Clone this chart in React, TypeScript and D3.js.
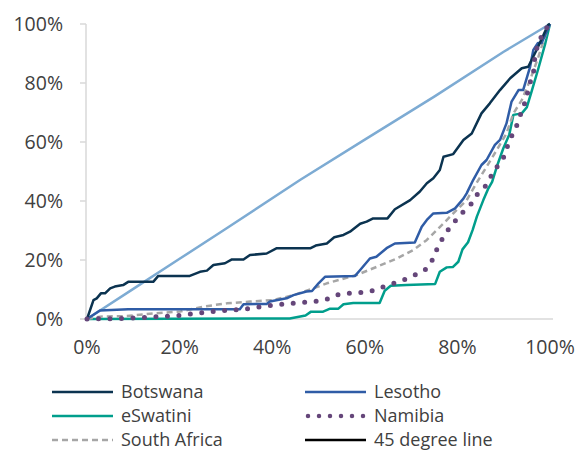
import * as d3 from "d3";

// cumulative share of population (x) vs cumulative share of income (y), in %
const botswana: [number, number][] = [
  [0, 0], [1.4, 6.4], [2.1, 7], [3, 8.7], [3.9, 8.7], [5, 10.4], [6, 11], [7.8, 11.5],
  [8.9, 12.6], [14.3, 12.6], [15.4, 14.6], [22.2, 14.6], [24.4, 16], [25.9, 16.4],
  [27.3, 18.3], [29.8, 18.9], [31.3, 20.2], [33.8, 20.2], [35.2, 21.7], [38.8, 22.2],
  [41, 24], [48.3, 24], [49.4, 24.9], [51.8, 25.6], [53.4, 27.7], [55.4, 28.5],
  [56.8, 29.6], [59, 32.3], [60.4, 33], [61.8, 34.1], [64.9, 34.1], [66.5, 37.2],
  [69.8, 40.3], [71.9, 43.2], [73.4, 46], [74.8, 47.7], [76.2, 50.5], [77, 55],
  [79.1, 55.9], [81.3, 60.7], [83.1, 62.9], [85.2, 69.7], [87, 73.1], [89.2, 77.6],
  [91.4, 81.6], [93.9, 85], [95.3, 85.5], [97.1, 91.2], [99.6, 99.7], [100, 100],
];
const lesotho: [number, number][] = [
  [0, 0], [2.8, 2.9], [8.9, 3.3], [33, 3.3], [33.8, 5], [38.8, 5.1], [39.5, 5.9],
  [43.1, 7], [44.6, 8.1], [47.4, 9.3], [48.6, 9.5], [50, 12.1], [51.4, 14.3],
  [57.9, 14.6], [59, 16.6], [61.1, 20.5], [62.5, 21.1], [64.7, 24], [66.5, 25.6],
  [70.8, 25.9], [72.3, 31.3], [73.4, 33.6], [74.8, 35.8], [77.7, 36], [79.5, 37.5],
  [81.3, 40.8], [82, 42.6], [83.4, 47.1], [85.2, 52.2], [86.3, 53.9], [88.1, 59],
  [89.2, 60.7], [90.6, 66.3], [91.7, 73.7], [93.2, 77.6], [94.2, 77.6], [95.7, 85.5],
  [96.4, 91.2], [97.4, 93.6], [98.2, 93.6], [100, 100],
];
const eswatini: [number, number][] = [
  [0, 0], [43.8, 0.2], [47.2, 1.2], [48.4, 2.5], [51, 2.5], [52.5, 3.5], [54.3, 3.5],
  [55.4, 5], [57.5, 5.4], [63.2, 5.4], [64.3, 9.6], [65.6, 11.3], [69, 11.5],
  [75.2, 11.9], [76.2, 16], [77.7, 17.5], [79, 17.6], [80.2, 19.4], [81.1, 23.6],
  [82.3, 26], [83.3, 30.2], [84.2, 34.7], [85.6, 40.3], [86.7, 44.3], [87.5, 46.5],
  [88.5, 51.6], [89.9, 57.8], [91.2, 62.5], [92.1, 69.2], [93.9, 69.7], [95, 71.8],
  [96, 77], [97.5, 85], [98.9, 92.9], [100, 100],
];
const namibia: [number, number][] = [
  [0, 0], [8.6, 0.2], [13.2, 0.6], [18.6, 1], [23.7, 1.9], [28.7, 2.8], [33.8, 3.3],
  [38.8, 4.4], [43.9, 5.3], [48.9, 5.9], [51.4, 6.4], [53.9, 8.1], [56.1, 8.7],
  [58.6, 8.9], [61.1, 9.3], [63.6, 10.7], [65.8, 11.9], [68.3, 13.2], [70.8, 14.9],
  [73, 16.6], [74.4, 19.4], [75.5, 23.4], [76.6, 26.8], [78, 30.2], [80.6, 35.3],
  [83.1, 39.2], [84.5, 42.8], [86.3, 45.4], [87.4, 48.8], [88.8, 52.2], [90.3, 55.6],
  [91, 59.6], [93.2, 66.9], [93.9, 70.8], [95, 74.8], [95.3, 78.7], [96.4, 82.7],
  [96.8, 90.1], [97.8, 94.6], [98.9, 98], [100, 100],
];
const southAfrica: [number, number][] = [
  [0, 0], [2.8, 0.8], [8.6, 1], [14.3, 1.9], [20.1, 2.5], [25.1, 4.2], [30.2, 5.3],
  [35.2, 5.9], [40.2, 6.4], [44.6, 8.1], [48.9, 10.4], [51.8, 12.1], [58.2, 14.9],
  [62.6, 17.7], [66.9, 20.5], [70.5, 23.4], [73.4, 26.8], [77, 32.4], [79.8, 36.9],
  [82, 40.3], [84.1, 46], [86.3, 51.6], [88.5, 57.3], [90.6, 62.9], [92.1, 69.7],
  [93.9, 74.2], [95.7, 81], [97.5, 88.9], [98.9, 95.7], [100, 100],
];
const equality: [number, number][] = [
  [0, 0], [10, 10.2], [20, 20.4], [30, 30.6], [46, 47.1], [60, 60.8], [75, 75.4],
  [90, 90.6], [100, 100],
];

const ticks = [0, 20, 40, 60, 80, 100];

const series = [
  { name: "45 degree line", data: equality, color: "#7dabd3", legend: "#000000", dash: "", width: 2.5 },
  { name: "eSwatini", data: eswatini, color: "#009e8c", legend: "#009e8c", dash: "", width: 2.5 },
  { name: "South Africa", data: southAfrica, color: "#a6a6a6", legend: "#a6a6a6", dash: "6 4", width: 2.5 },
  { name: "Lesotho", data: lesotho, color: "#2f5ca6", legend: "#2f5ca6", dash: "", width: 2.5 },
  { name: "Botswana", data: botswana, color: "#0b3350", legend: "#0b3350", dash: "", width: 2.5 },
  { name: "Namibia", data: namibia, color: "#65467a", legend: "#65467a", dash: "0 11.5", width: 5 },
];

const legendOrder = ["Botswana", "Lesotho", "eSwatini", "Namibia", "South Africa", "45 degree line"];

const App = () => {
  const width = 579;
  const height = 450;
  const x = d3.scaleLinear().domain([0, 100]).range([87, 550]);
  const y = d3.scaleLinear().domain([0, 100]).range([319, 24]);
  const line = d3
    .line<[number, number]>()
    .x((d) => x(d[0]))
    .y((d) => y(d[1]));
  const font = "'Open Sans', sans-serif";
  const textColor = "#404040";

  return (
    <svg width={width} height={height} style={{ position: "absolute", left: 0, top: 0 }}>
      {/* axes */}
      <line x1={86} x2={86} y1={y(100)} y2={y(0)} stroke="#d9d9d9" strokeWidth={1.5} />
      <line x1={80} x2={553} y1={y(0)} y2={y(0)} stroke="#d9d9d9" strokeWidth={1.5} />
      {ticks.map((t) => (
        <g key={"y" + t}>
          <line x1={80} x2={86} y1={y(t)} y2={y(t)} stroke="#d9d9d9" strokeWidth={1.5} />
          <text
            x={63}
            y={y(t)}
            dy="0.35em"
            textAnchor="end"
            fontFamily={font}
            fontSize={19.5}
            fill={textColor}
          >
            {t}%
          </text>
        </g>
      ))}
      {ticks.map((t) => (
        <text
          key={"x" + t}
          x={x(t)}
          y={354}
          textAnchor="middle"
          fontFamily={font}
          fontSize={19.5}
          fill={textColor}
        >
          {t}%
        </text>
      ))}
      {/* series */}
      {series.map((s) => (
        <path
          key={s.name}
          d={line(s.data) ?? ""}
          fill="none"
          stroke={s.color}
          strokeWidth={s.width}
          strokeDasharray={s.dash || undefined}
          strokeLinecap={s.name === "Namibia" ? "round" : "butt"}
          strokeLinejoin="round"
        />
      ))}
      {/* legend */}
      {legendOrder.map((name, i) => {
        const s = series.find((d) => d.name === name)!;
        const col = i % 2;
        const row = Math.floor(i / 2);
        const lx = col === 0 ? 52 : 305;
        const ly = 392 + row * 24;
        return (
          <g key={"lg" + name}>
            <line
              x1={lx + (s.name === "Namibia" ? 3 : 0)}
              x2={lx + 61}
              y1={ly}
              y2={ly}
              stroke={s.legend}
              strokeWidth={s.name === "Namibia" ? 4.5 : 2.5}
              strokeDasharray={s.name === "Namibia" ? "0 11" : s.dash || undefined}
              strokeLinecap={s.name === "Namibia" ? "round" : "butt"}
            />
            <text
              x={lx + 69}
              y={ly}
              dy="0.35em"
              fontFamily={font}
              fontSize={18}
              fill={textColor}
            >
              {name}
            </text>
          </g>
        );
      })}
    </svg>
  );
};

export default App;
